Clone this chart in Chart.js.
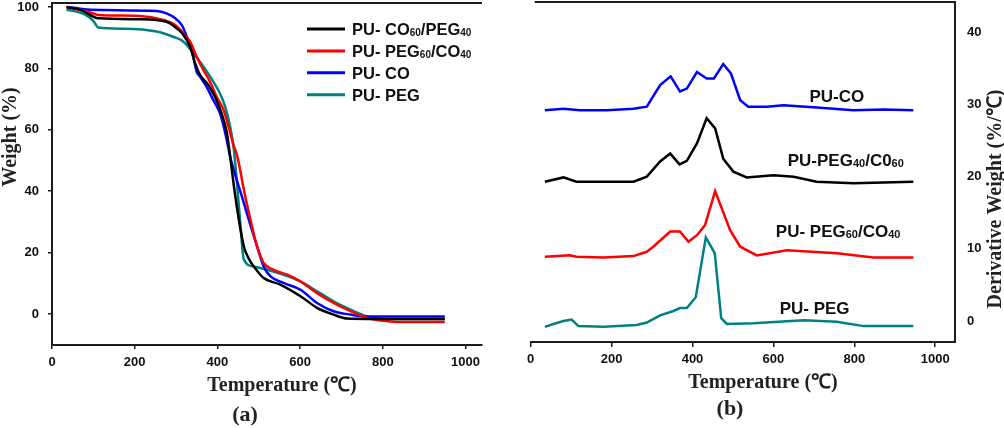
<!DOCTYPE html>
<html>
<head>
<meta charset="utf-8">
<script src="https://cdn.jsdelivr.net/npm/chart.js@4.4.1/dist/chart.umd.min.js"></script>
<style>
  body { margin: 0; background: #fff; overflow: hidden; }
  canvas { position: absolute; top: 0; }
</style>
</head>
<body>
<canvas id="tgaChart" width="500" height="428" style="left:0"></canvas>
<canvas id="dtgChart" width="504" height="428" style="left:500px"></canvas>
<script>
'use strict';
// series names, "_NN" marks a subscript
var tgaNames = ['PU- CO_60/PEG_40', 'PU- PEG_60/CO_40', 'PU- CO', 'PU- PEG'];
var dtgNames = ['PU-CO', 'PU-PEG_40/C0_60', 'PU- PEG_60/CO_40', 'PU- PEG'];
var colors = ['#000000', '#ff0000', '#0000ff', '#008080'];

var xTicks = [0, 200, 400, 600, 800, 1000];
var tgaYTicks = [0, 20, 40, 60, 80, 100];
var dtgYTicks = [0, 10, 20, 30, 40];

// (a) TGA, weight %
var tgaTempBlack = [35, 70, 112, 213, 277, 302, 318, 334, 346, 358, 378, 394, 410, 423, 431, 440, 452, 464, 476, 488, 512, 552, 601, 641, 681, 714, 762, 800, 950];
var tgaBlack = [100, 99, 96.3, 96, 95.2, 93, 90.9, 87, 81.7, 77.9, 74.6, 70.8, 65.4, 59, 51.2, 41.6, 30.7, 22, 18, 15.5, 11.7, 9.6, 5.8, 2, -0.2, -1.5, -1.6, -1.6, -1.6];
var tgaTempRed = [35, 100, 112, 213, 269, 298, 318, 334, 350, 366, 382, 398, 415, 427, 439, 447, 455, 464, 480, 496, 512, 536, 569, 601, 641, 681, 722, 762, 802, 843, 950];
var tgaRed = [100, 97.9, 97.4, 97.1, 95.8, 94.1, 91.4, 88.7, 83.8, 79.5, 75.7, 70.8, 66.4, 61, 55, 52, 47, 40.5, 30.7, 22, 16.6, 14.4, 12.8, 10.6, 6.8, 3.6, 0.9, -1.3, -2.2, -2.6, -2.6];
var tgaTempBlue = [40, 92, 253, 277, 298, 314, 326, 338, 350, 358, 374, 390, 406, 419, 431, 447, 462, 476, 496, 512, 528, 560, 601, 641, 681, 722, 762, 950];
var tgaBlue = [100, 99.1, 98.7, 97.9, 96.3, 94.1, 90.3, 86, 78.9, 77.3, 74, 69.7, 65.5, 59, 51.2, 43.6, 37.1, 30.7, 22, 15.5, 12.3, 10.1, 7.9, 3.6, 0.9, -0.2, -0.8, -0.8];
var tgaTempTeal = [35, 80, 100, 112, 173, 253, 293, 318, 342, 366, 390, 406, 419, 431, 440, 448, 456, 464, 488, 520, 560, 601, 641, 681, 722, 762, 802, 950];
var tgaTeal = [99.2, 97.5, 95.5, 93.3, 92.9, 92, 90.3, 88.7, 84.9, 80.6, 75.7, 71.9, 67.5, 61, 53.5, 41.6, 28.6, 17.7, 15.5, 14.4, 12.8, 10.6, 7.4, 4.1, 1.4, -0.8, -1.6, -1.6];

// (b) DTG, derivative weight %/C (curves offset as in the figure)
var dtgTempBlue = [35, 81, 122, 188, 254, 287, 320, 346, 369, 386, 411, 435, 453, 476, 495, 518, 538, 584, 625, 707, 798, 872, 946];
var dtgBlue = [29.2, 29.4, 29.2, 29.2, 29.4, 29.7, 32.7, 33.9, 31.8, 32.2, 34.5, 33.6, 33.6, 35.6, 34.3, 30.6, 29.7, 29.7, 29.9, 29.6, 29.2, 29.3, 29.2];
var dtgTempBlack = [35, 81, 113, 171, 254, 287, 320, 345, 368, 386, 411, 435, 456, 476, 501, 534, 600, 650, 707, 798, 946];
var dtgBlack = [19.3, 19.9, 19.3, 19.3, 19.3, 20, 22.1, 23.2, 21.7, 22.2, 24.6, 28.1, 26.7, 22.5, 20.7, 19.9, 20.2, 20, 19.3, 19.1, 19.3];
var dtgTempRed = [35, 97, 113, 180, 254, 287, 303, 345, 369, 390, 411, 431, 456, 493, 518, 559, 633, 757, 847, 946];
var dtgRed = [8.9, 9.1, 8.9, 8.8, 9.0, 9.6, 10.3, 12.4, 12.4, 11.0, 11.9, 13.3, 18.0, 12.6, 10.3, 9.1, 9.8, 9.4, 8.8, 8.8];
var dtgTempTeal = [35, 56, 81, 101, 118, 180, 262, 287, 320, 353, 369, 386, 408, 433, 455, 471, 485, 551, 675, 757, 823, 946];
var dtgTeal = [-0.8, -0.4, 0, 0.2, -0.7, -0.8, -0.55, -0.2, 0.8, 1.4, 1.8, 1.8, 3.3, 11.6, 9.4, 0.4, -0.4, -0.3, 0.1, -0.1, -0.7, -0.7];

var sans = '"Liberation Sans", Arial, sans-serif';
var serif = '"Liberation Serif", "Times New Roman", serif';
var axisColor = '#1c1c1c';

function points(xs, ys) {
    return xs.map(function (x, i) { return {x: x, y: ys[i]}; });
}

function fixedTicks(values) {
    return function (scale) {
        scale.ticks = values.map(function (v) { return {value: v}; });
    };
}

function plainLabel(value) {
    return String(value);
}

// fixed axis box size, and no extra room for overhanging labels
function fixedSize(prop, size) {
    return function (s) {
        s[prop] = size;
        s.paddingTop = s.paddingBottom = s.paddingLeft = s.paddingRight = 0;
    };
}

// draws text where "_NN" becomes a small subscript
function drawRich(ctx, text, x, y, size, align) {
    var parts = text.split(/_(\d+)/);
    var mainFont = 'bold ' + size + 'px ' + sans;
    var subFont = 'bold ' + Math.round(size * 0.63) + 'px ' + sans;
    var width = 0;
    parts.forEach(function (p, i) {
        ctx.font = i % 2 ? subFont : mainFont;
        width += ctx.measureText(p).width;
    });
    var cx = align === 'center' ? x - width / 2 : x;
    var base = y + size * 0.36;
    ctx.textAlign = 'left';
    ctx.textBaseline = 'alphabetic';
    parts.forEach(function (p, i) {
        ctx.font = i % 2 ? subFont : mainFont;
        ctx.fillText(p, cx, base + (i % 2 ? 1 : 0));
        cx += ctx.measureText(p).width;
    });
}

function topLine(chart, startOffset) {
    var ctx = chart.ctx, area = chart.chartArea;
    ctx.strokeStyle = axisColor;
    ctx.lineWidth = 2;
    ctx.beginPath();
    ctx.moveTo(area.left + startOffset, area.top);
    ctx.lineTo(area.right, area.top);
    ctx.stroke();
}

var tgaDecor = {
    id: 'tgaDecor',
    afterDraw: function (chart) {
        var ctx = chart.ctx;
        ctx.save();
        topLine(chart, 0);
        tgaNames.forEach(function (name, i) {
            var y = 29 + i * 21.9;
            ctx.strokeStyle = colors[i];
            ctx.lineWidth = 3;
            ctx.beginPath();
            ctx.moveTo(307, y);
            ctx.lineTo(345, y);
            ctx.stroke();
            ctx.fillStyle = '#111';
            drawRich(ctx, name, 352, y, 16.5, 'left');
        });
        ctx.fillStyle = '#222';
        ctx.textAlign = 'center';
        ctx.textBaseline = 'middle';
        ctx.font = 'bold 20px ' + serif;
        ctx.fillText('Temperature (\u2103)', 282, 386);
        ctx.font = 'bold 22px ' + serif;
        ctx.fillText('(a)', 245, 415);
        ctx.translate(11, 137);
        ctx.rotate(-Math.PI / 2);
        ctx.font = 'bold 20px ' + serif;
        ctx.fillText('Weight (%)', 0, 0);
        ctx.restore();
    }
};

// label anchors in data units (temperature, derivative weight)
var dtgLabelAt = [[757, 31.2], [779, 22.3], [760, 12.5], [702, 1.8]];

var dtgDecor = {
    id: 'dtgDecor',
    afterDraw: function (chart) {
        var ctx = chart.ctx;
        var xs = chart.scales.x, ys = chart.scales.y;
        ctx.save();
        topLine(chart, 4);
        ctx.fillStyle = '#111';
        dtgNames.forEach(function (name, i) {
            var at = dtgLabelAt[i];
            drawRich(ctx, name, xs.getPixelForValue(at[0]), ys.getPixelForValue(at[1]), 17, 'center');
        });
        ctx.fillStyle = '#222';
        ctx.textAlign = 'center';
        ctx.textBaseline = 'middle';
        ctx.font = 'bold 20px ' + serif;
        ctx.fillText('Temperature (\u2103)', 263, 383);
        ctx.font = 'bold 22px ' + serif;
        ctx.fillText('(b)', 230, 409);
        ctx.translate(496, 199);
        ctx.rotate(-Math.PI / 2);
        ctx.font = 'bold 20px ' + serif;
        ctx.fillText('Derivative Weight (%/\u2103)', 0, 0);
        ctx.restore();
    }
};

var tickFont = {family: sans, size: 13, weight: 'bold'};

new Chart(document.getElementById('tgaChart'), {
    type: 'line',
    data: {
        datasets: [
            {data: points(tgaTempBlack, tgaBlack)},
            {data: points(tgaTempRed, tgaRed)},
            {data: points(tgaTempBlue, tgaBlue)},
            {data: points(tgaTempTeal, tgaTeal)}
        ].map(function (ds, i) {
            ds.label = tgaNames[i];
            ds.borderColor = colors[i];
            ds.borderWidth = 2.5;
            ds.pointRadius = 0;
            ds.cubicInterpolationMode = 'monotone';
            return ds;
        })
    },
    options: {
        responsive: false,
        animation: false,
        devicePixelRatio: 1,
        events: [],
        layout: {autoPadding: false, padding: {left: 0, right: 18, top: 3, bottom: 0}},
        plugins: {legend: {display: false}, tooltip: {enabled: false}},
        scales: {
            x: {
                type: 'linear', min: 0, max: 1040,
                afterBuildTicks: fixedTicks(xTicks),
                afterFit: fixedSize('height', 83),
                grid: {drawOnChartArea: false, tickLength: 4, color: axisColor, lineWidth: 1.5},
                border: {color: axisColor, width: 2},
                ticks: {font: tickFont, color: '#111', padding: 6, maxRotation: 0, callback: plainLabel}
            },
            y: {
                min: -10.1, max: 101.3,
                afterBuildTicks: fixedTicks(tgaYTicks),
                afterFit: fixedSize('width', 52),
                grid: {drawOnChartArea: false, tickLength: 4, color: axisColor, lineWidth: 1.5},
                border: {color: axisColor, width: 2},
                ticks: {font: tickFont, color: '#111', padding: 9, callback: plainLabel}
            }
        }
    },
    plugins: [tgaDecor]
});

new Chart(document.getElementById('dtgChart'), {
    type: 'line',
    data: {
        datasets: [
            {data: points(dtgTempBlue, dtgBlue), borderColor: colors[2]},
            {data: points(dtgTempBlack, dtgBlack), borderColor: colors[0]},
            {data: points(dtgTempRed, dtgRed), borderColor: colors[1]},
            {data: points(dtgTempTeal, dtgTeal), borderColor: colors[3]}
        ].map(function (ds, i) {
            ds.label = dtgNames[i];
            ds.borderWidth = 2.5;
            ds.pointRadius = 0;
            ds.tension = 0;
            return ds;
        })
    },
    options: {
        responsive: false,
        animation: false,
        devicePixelRatio: 1,
        events: [],
        layout: {autoPadding: false, padding: {left: 30.7, right: 0, top: 2, bottom: 0}},
        plugins: {legend: {display: false}, tooltip: {enabled: false}},
        scales: {
            x: {
                type: 'linear', min: 0, max: 1049,
                afterBuildTicks: fixedTicks(xTicks),
                afterFit: fixedSize('height', 86),
                grid: {drawOnChartArea: false, tickLength: 5, color: axisColor, lineWidth: 1.5},
                border: {color: axisColor, width: 2},
                ticks: {font: tickFont, color: '#111', padding: 5, maxRotation: 0, callback: plainLabel}
            },
            y: {
                position: 'right',
                min: -2.9, max: 44.2,
                afterBuildTicks: fixedTicks(dtgYTicks),
                afterFit: fixedSize('width', 49),
                grid: {display: false},
                border: {display: true, color: axisColor, width: 2},
                ticks: {font: tickFont, color: '#111', padding: 4, callback: plainLabel}
            }
        }
    },
    plugins: [dtgDecor]
});
</script>
</body>
</html>
